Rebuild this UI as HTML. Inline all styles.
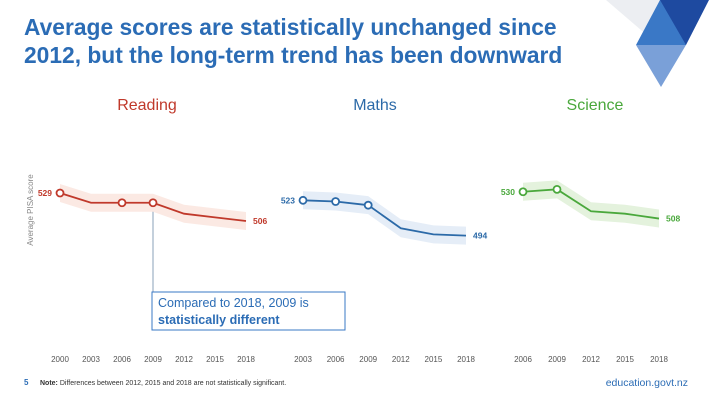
<!DOCTYPE html>
<html><head><meta charset="utf-8"><style>
body{margin:0;width:709px;height:400px;background:#fff;font-family:"Liberation Sans",sans-serif;overflow:hidden;position:relative}
.t{position:absolute;margin:0}
</style></head><body>
<h1 class="t" style="left:24px;top:13px;font-size:22.8px;line-height:28px;color:#2b6cb5;font-weight:bold">Average scores are statistically unchanged since<br>2012, but the long-term trend has been downward</h1>
<svg width="709" height="400" style="position:absolute;left:0;top:0">
<g>
<polygon points="606,0 665,0 662,48" fill="#eceef2"/>
<polygon points="660,0 709,0 686,45 662,45" fill="#1e4aa0"/>
<polygon points="660,0 686,45 636,45" fill="#3a78c6"/>
<polygon points="636,45 686,45 661,87" fill="#7aa0d8"/>
</g>
<text x="147" y="110" text-anchor="middle" font-size="16" fill="#c0392b">Reading</text>
<text x="375" y="110" text-anchor="middle" font-size="16" fill="#2c6aa8">Maths</text>
<text x="595" y="110" text-anchor="middle" font-size="16" fill="#4aa83c">Science</text>
<text transform="translate(33,210) rotate(-90)" text-anchor="middle" font-size="8" fill="#888">Average PISA score</text>
<line x1="153" y1="202" x2="153" y2="293" stroke="#8aa0b8" stroke-width="1"/>
<rect x="152" y="292" width="193" height="38" fill="#fff" stroke="#3a78c6"/>
<text x="158" y="307" font-size="12.5" fill="#2b6cb5">Compared to 2018, 2009 is</text>
<text x="158" y="324" font-size="12.5" font-weight="bold" fill="#2b6cb5">statistically different</text>
<g id="plots"></g>
<text x="24" y="385" font-size="8" font-weight="bold" fill="#2b6cb5">5</text>
<text x="40" y="385" font-size="7" fill="#333"><tspan font-weight="bold">Note:</tspan> Differences between 2012, 2015 and 2018 are not statistically significant.</text>
<text x="688" y="386" text-anchor="end" font-size="10.5" fill="#2b6cb5">education.govt.nz</text>
</svg>
<script>
const readingYears=[2000,2003,2006,2009,2012,2015,2018];
const readingScores=[529,521,521,521,512,509,506];
const readingMarkers=[2000,2006,2009];
const mathsYears=[2003,2006,2009,2012,2015,2018];
const mathsScores=[523,522,519,500,495,494];
const mathsMarkers=[2003,2006,2009];
const scienceYears=[2006,2009,2012,2015,2018];
const scienceScores=[530,532,514,512,508];
const scienceMarkers=[2006,2009];
const NS="http://www.w3.org/2000/svg";
const g=document.getElementById('plots');
function yS(v){return 193+(529-v)*1.217;}
function mk(tag,at){const e=document.createElementNS(NS,tag);for(const k in at)e.setAttribute(k,at[k]);g.appendChild(e);return e;}
function panel(name,years,scores,markers,x0,y0,step,col,band){
  const xS=yr=>x0+(yr-y0)/3*step;
  const top=years.map((yr,i)=>xS(yr)+','+(yS(scores[i])-9)).join(' ');
  const bot=years.slice().reverse().map((yr,j)=>{const i=years.length-1-j;return xS(yr)+','+(yS(scores[i])+9);}).join(' ');
  const b=mk('polygon',{points:top+' '+bot,fill:band});
  
  
  const l=mk('polyline',{points:years.map((yr,i)=>xS(yr)+','+yS(scores[i])).join(' '),fill:'none',stroke:col,'stroke-width':1.8});
  
  
  markers.forEach(yr=>{const i=years.indexOf(yr);
    const c=mk('circle',{cx:xS(yr),cy:yS(scores[i]),r:3.5,fill:'#fff',stroke:col,'stroke-width':1.8});
    
    });
  const n=years.length-1;
  const a=mk('text',{x:xS(years[0])-8,y:yS(scores[0])+3,'text-anchor':'end','font-size':8.5,'font-weight':'bold',fill:col});
  a.textContent=scores[0];
  
  
  const z=mk('text',{x:xS(years[n])+7,y:yS(scores[n])+3,'font-size':8.5,'font-weight':'bold',fill:col});
  z.textContent=scores[n];
  
  
  years.forEach(yr=>{const t=mk('text',{x:xS(yr),y:362,'text-anchor':'middle','font-size':8,fill:'#555'});
    t.textContent=yr;
    
    });
}
panel('reading',readingYears,readingScores,readingMarkers,60,2000,31,'#c0392b','#fbe9e3');
panel('maths',mathsYears,mathsScores,mathsMarkers,303,2003,32.6,'#2c6aa8','#e5edf7');
panel('science',scienceYears,scienceScores,scienceMarkers,523,2006,34,'#4aa83c','#e4f2dd');
</script>
</body></html>
